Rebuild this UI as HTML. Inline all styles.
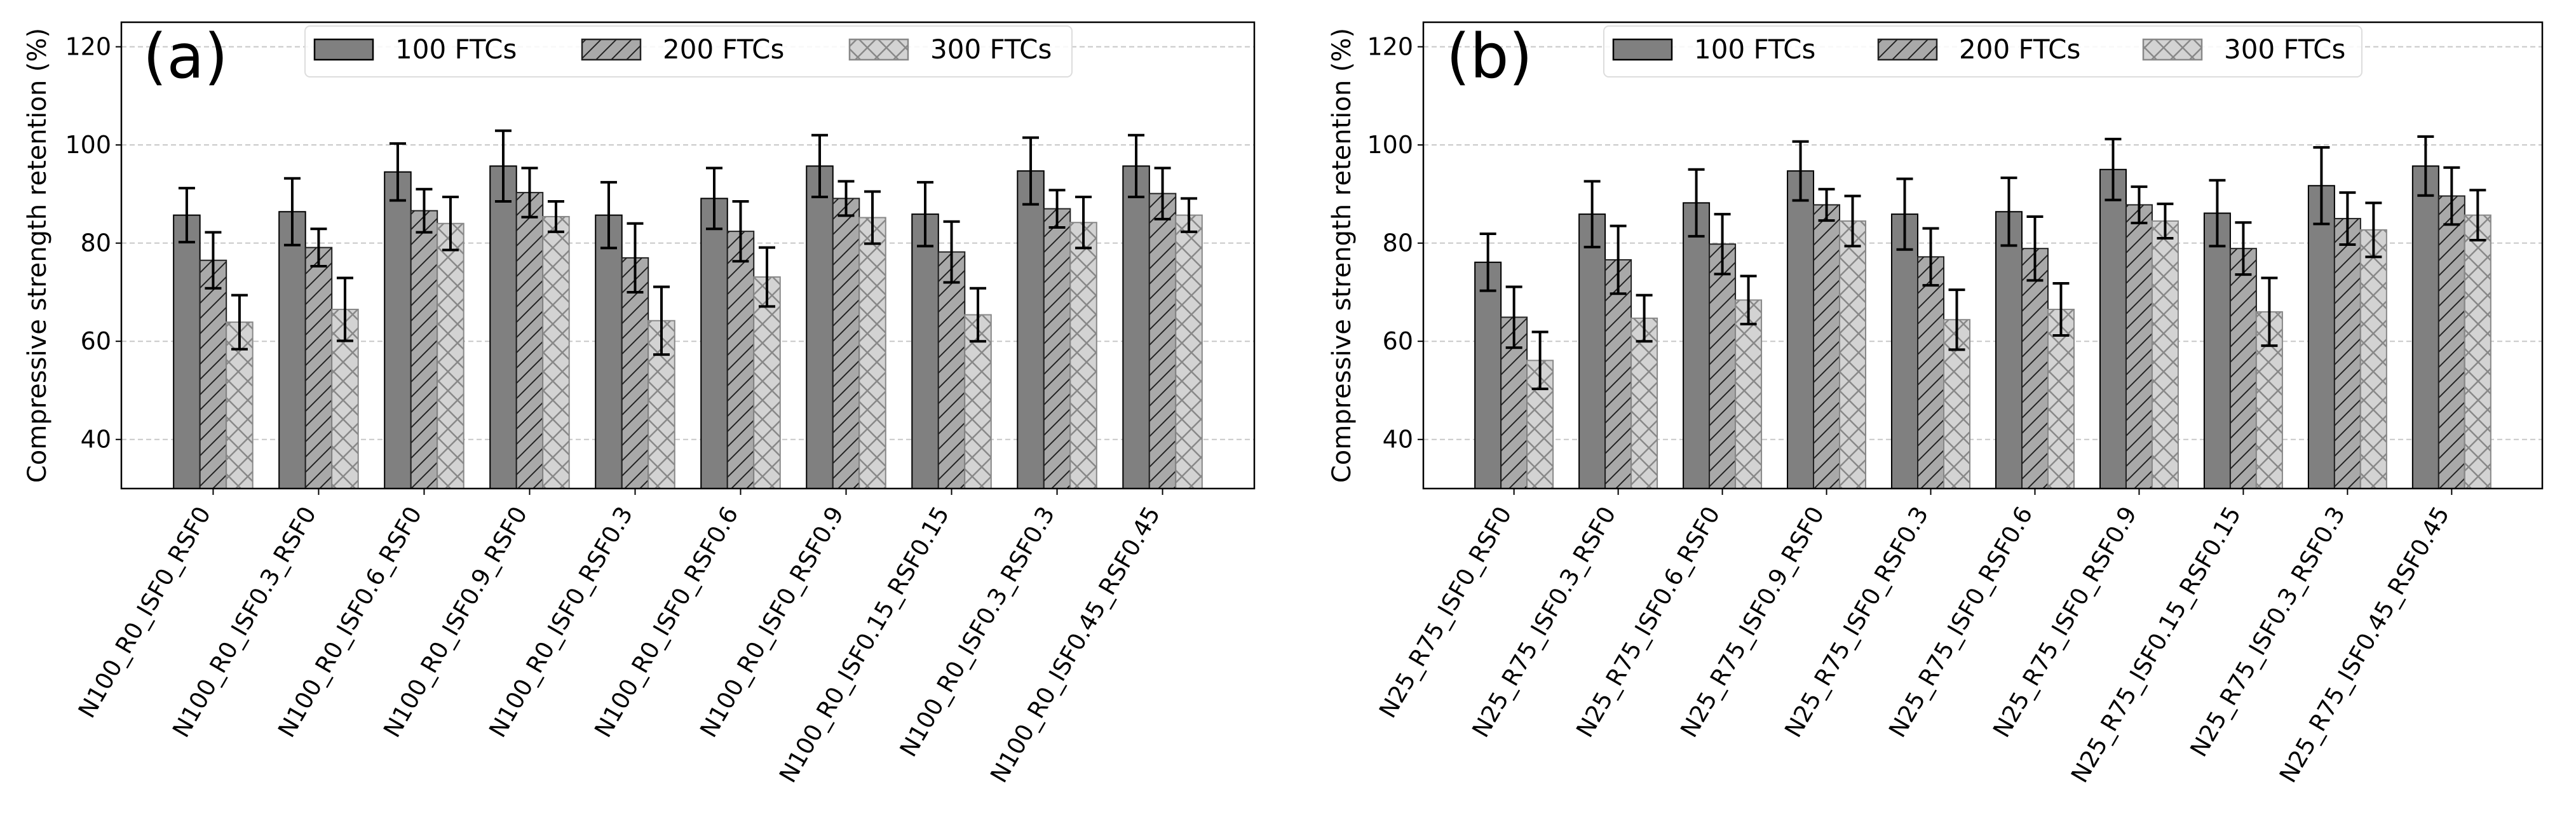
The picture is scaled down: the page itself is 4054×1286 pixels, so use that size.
<!DOCTYPE html>
<html><head><meta charset="utf-8">
<style>
html,body{margin:0;padding:0;background:#fff;}
svg{display:block;font-family:"DejaVu Sans","Liberation Sans",sans-serif;}
</style></head>
<body>
<svg id="fig" width="4054" height="1286" viewBox="0 0 4054 1286" xmlns="http://www.w3.org/2000/svg">
<defs>
<pattern id="hatchDiag" patternUnits="userSpaceOnUse" width="24" height="24">
<rect width="24" height="24" fill="#a9a9a9"/>
<path d="M-6,6 L6,-6 M0,24 L24,0 M18,30 L30,18" stroke="#222" stroke-width="2"/>
</pattern>
<pattern id="hatchCross" patternUnits="userSpaceOnUse" width="30" height="30">
<rect width="30" height="30" fill="#d3d3d3"/>
<path d="M0,0 L30,30 M0,30 L30,0" stroke="#888" stroke-width="2.5"/>
</pattern>
</defs>
</svg>
<script>
const seriesNames = ["100 FTCs","200 FTCs","300 FTCs"];
const catsA = ["N100_R0_ISF0_RSF0","N100_R0_ISF0.3_RSF0","N100_R0_ISF0.6_RSF0","N100_R0_ISF0.9_RSF0","N100_R0_ISF0_RSF0.3","N100_R0_ISF0_RSF0.6","N100_R0_ISF0_RSF0.9","N100_R0_ISF0.15_RSF0.15","N100_R0_ISF0.3_RSF0.3","N100_R0_ISF0.45_RSF0.45"];
const a100 = [85.7,86.4,94.5,95.7,85.7,89.1,95.7,85.9,94.7,95.7];
const a200 = [76.5,79.1,86.6,90.3,77.0,82.4,89.1,78.2,87.0,90.1];
const a300 = [63.9,66.5,84.0,85.4,64.2,73.1,85.2,65.4,84.2,85.7];
const a100err = [5.5,6.8,5.8,7.2,6.7,6.2,6.3,6.5,6.8,6.3];
const a200err = [5.7,3.8,4.4,5.0,7.0,6.1,3.5,6.2,3.8,5.2];
const a300err = [5.5,6.4,5.4,3.1,6.9,6.0,5.3,5.4,5.2,3.4];
const catsB = ["N25_R75_ISF0_RSF0","N25_R75_ISF0.3_RSF0","N25_R75_ISF0.6_RSF0","N25_R75_ISF0.9_RSF0","N25_R75_ISF0_RSF0.3","N25_R75_ISF0_RSF0.6","N25_R75_ISF0_RSF0.9","N25_R75_ISF0.15_RSF0.15","N25_R75_ISF0.3_RSF0.3","N25_R75_ISF0.45_RSF0.45"];
const b100 = [76.1,85.9,88.2,94.7,85.9,86.4,95.0,86.1,91.7,95.7];
const b200 = [64.9,76.6,79.8,87.8,77.2,78.9,87.8,78.9,85.0,89.6];
const b300 = [56.1,64.7,68.4,84.5,64.4,66.5,84.5,66.0,82.7,85.7];
const b100err = [5.8,6.7,6.8,6.0,7.2,6.9,6.2,6.7,7.8,6.0];
const b200err = [6.2,6.9,6.1,3.2,5.8,6.5,3.7,5.3,5.3,5.8];
const b300err = [5.8,4.7,4.9,5.1,6.1,5.3,3.5,6.9,5.5,5.1];
const yTicks = [40,60,80,100,120];

const NS="http://www.w3.org/2000/svg";
const svg=document.getElementById('fig');
function mk(tag,attrs,parent){const e=document.createElementNS(NS,tag);for(const k in attrs)e.setAttribute(k,attrs[k]);(parent||svg).appendChild(e);return e;}

function panel(opt){
  const L=opt.left,R=opt.right,T=35,B=769;
  const yMin=30,yMax=125,xMin=-0.87,xMax=9.87;
  const yS=v=>B-(v-yMin)/(yMax-yMin)*(B-T);
  const xS=i=>L+(i-xMin)/(xMax-xMin)*(R-L);
  const g=mk('g',{});
  
  
  yTicks.forEach(t=>{
    const y=yS(t);
    const gl=mk('line',{x1:L,x2:R,y1:y,y2:y,stroke:'#c8c8c8','stroke-width':2,'stroke-dasharray':'8,5'},g);
    
    
    mk('line',{x1:L-9,x2:L,y1:y,y2:y,stroke:'#000','stroke-width':2},g);
    const tl=mk('text',{x:L-16,y:y+13,'text-anchor':'end','font-size':38,fill:'#000'},g);
    tl.textContent=t;
    
    
  });
  const unit=(R-L)/(xMax-xMin);
  const bw=unit*0.25;
  const series=[opt.s1,opt.s2,opt.s3];
  const errs=[opt.e1,opt.e2,opt.e3];
  const fills=['#808080','url(#hatchDiag)','url(#hatchCross)'];
  const strokes=['#000','#222','#888'];
  opt.cats.forEach((c,i)=>{
    series.forEach((s,k)=>{
      const cx=xS(i)+(k-1)*bw;
      const y=yS(s[i]);
      const r=mk('rect',{x:cx-bw/2,y:y,width:bw,height:B-y,fill:fills[k],stroke:strokes[k],'stroke-width':2},g);
      
      
    });
  });
  opt.cats.forEach((c,i)=>{
    series.forEach((s,k)=>{
      const cx=xS(i)+(k-1)*bw;
      const y1=yS(s[i]+errs[k][i]),y2=yS(s[i]-errs[k][i]);
      const eg=mk('g',{stroke:'#000','stroke-width':4},g);
      
      
      mk('line',{x1:cx,x2:cx,y1:y1,y2:y2},eg);
      mk('line',{x1:cx-13,x2:cx+13,y1:y1,y2:y1},eg);
      mk('line',{x1:cx-13,x2:cx+13,y1:y2,y2:y2},eg);
    });
    const tx=xS(i);
    mk('line',{x1:tx,x2:tx,y1:B,y2:B+10,stroke:'#000','stroke-width':2},g);
    const lab=mk('text',{transform:`translate(${tx-3},${B+38}) rotate(-60)`,'text-anchor':'end','font-size':37,fill:'#000'},g);
    lab.textContent=c;
    
    
  });
  const fr=mk('rect',{x:L,y:T,width:R-L,height:B-T,fill:'none',stroke:'#000','stroke-width':2.5},g);
  
  
  const yl=mk('text',{transform:`translate(${opt.ylabX},${(T+B)/2}) rotate(-90)`,'text-anchor':'middle','font-size':40,fill:'#000'},g);
  yl.textContent='Compressive strength retention (%)';
  
  
  const pl=mk('text',{x:opt.tagX,y:122,'font-size':96,fill:'#000'},g);
  pl.textContent=opt.tag;
  
  
  const lg=mk('g',{},g);
  
  
  mk('rect',{x:opt.legX,y:41,width:opt.legW,height:80,rx:8,fill:'#fff','fill-opacity':0.85,stroke:'#ddd','stroke-width':2},lg);
  seriesNames.forEach((n,k)=>{
    const px=opt.legX+15+k*opt.legStep;
    const le=mk('g',{},lg);
    
    
    mk('rect',{x:px,y:62,width:92,height:32,fill:fills[k],stroke:strokes[k],'stroke-width':2.5},le);
    const t=mk('text',{x:px+127,y:92,'font-size':42,fill:'#000'},le);
    t.textContent=n;
  });
}
panel({name:'panel-a',left:191,right:1974,cats:catsA,s1:a100,s2:a200,s3:a300,e1:a100err,e2:a200err,e3:a300err,ylabX:72,tagX:225,tag:'(a)',legX:480,legW:1207,legStep:421});
panel({name:'panel-b',left:2240,right:4001,cats:catsB,s1:b100,s2:b200,s3:b300,e1:b100err,e2:b200err,e3:b300err,ylabX:2125,tagX:2276,tag:'(b)',legX:2524,legW:1193,legStep:417});
</script>
</body></html>
